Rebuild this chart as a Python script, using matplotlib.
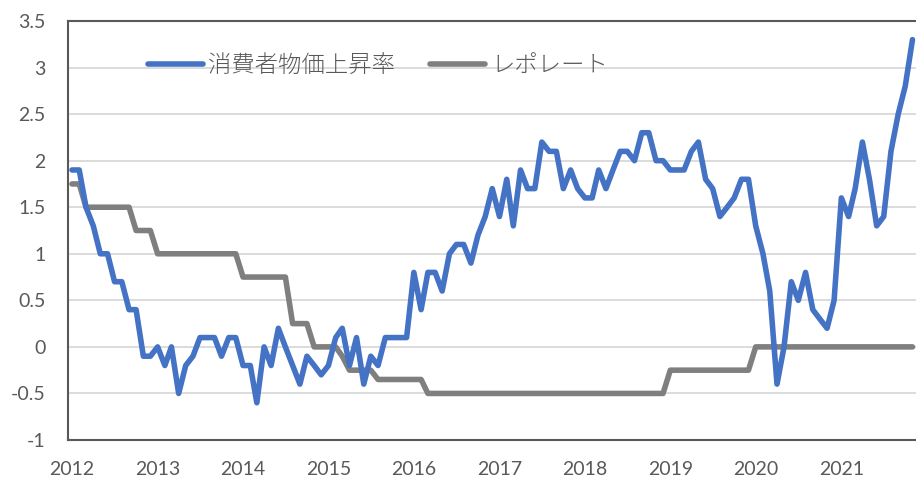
import pandas as pd
import matplotlib
matplotlib.use("Agg")
import matplotlib.pyplot as plt
import matplotlib.dates as mdates
from matplotlib.ticker import FuncFormatter

plt.rcParams['axes.unicode_minus'] = False

# monthly, Jan 2012 - Nov 2021
months = pd.date_range('2012-01-01', periods=119, freq='MS')

cpi = [
    1.9, 1.9, 1.5, 1.3, 1.0, 1.0, 0.7, 0.7, 0.4, 0.4, -0.1, -0.1,      # 2012
    0.0, -0.2, 0.0, -0.5, -0.2, -0.1, 0.1, 0.1, 0.1, -0.1, 0.1, 0.1,   # 2013
    -0.2, -0.2, -0.6, 0.0, -0.2, 0.2, 0.0, -0.2, -0.4, -0.1, -0.2, -0.3,  # 2014
    -0.2, 0.1, 0.2, -0.2, 0.1, -0.4, -0.1, -0.2, 0.1, 0.1, 0.1, 0.1,   # 2015
    0.8, 0.4, 0.8, 0.8, 0.6, 1.0, 1.1, 1.1, 0.9, 1.2, 1.4, 1.7,        # 2016
    1.4, 1.8, 1.3, 1.9, 1.7, 1.7, 2.2, 2.1, 2.1, 1.7, 1.9, 1.7,        # 2017
    1.6, 1.6, 1.9, 1.7, 1.9, 2.1, 2.1, 2.0, 2.3, 2.3, 2.0, 2.0,        # 2018
    1.9, 1.9, 1.9, 2.1, 2.2, 1.8, 1.7, 1.4, 1.5, 1.6, 1.8, 1.8,        # 2019
    1.3, 1.0, 0.6, -0.4, 0.0, 0.7, 0.5, 0.8, 0.4, 0.3, 0.2, 0.5,       # 2020
    1.6, 1.4, 1.7, 2.2, 1.8, 1.3, 1.4, 2.1, 2.5, 2.8, 3.3,             # 2021
]

repo = (
    [1.75] * 2 + [1.5] * 7 + [1.25] * 3        # 2012
    + [1.0] * 12                               # 2013
    + [0.75] * 7 + [0.25] * 3 + [0.0] * 2      # 2014
    + [0.0] * 2 + [-0.1] + [-0.25] * 4 + [-0.35] * 5   # 2015
    + [-0.35] * 2 + [-0.5] * 10                # 2016
    + [-0.5] * 12                              # 2017
    + [-0.5] * 12                              # 2018
    + [-0.25] * 12                             # 2019
    + [0.0] * 12                               # 2020
    + [0.0] * 11                               # 2021
)

yticks = [-1, -0.5, 0, 0.5, 1, 1.5, 2, 2.5, 3, 3.5]

text_col = '#595959'
num_font = 'Lato'
jp_font = ['Noto Sans CJK JP', 'DejaVu Sans']

fig = plt.figure(figsize=(9.16, 4.79), dpi=100)
ax = fig.add_axes([68 / 916, 39 / 479, 848 / 916, 419 / 479])

ax.plot(months, cpi, color='#4472C4', lw=4, label='消費者物価上昇率',
        solid_joinstyle='round', solid_capstyle='round', zorder=3)
ax.plot(months, repo, color='#7F7F7F', lw=4, label='レポレート',
        solid_joinstyle='round', solid_capstyle='round', zorder=2)

ax.set_ylim(-1, 3.5)
ax.set_yticks(yticks)
ax.yaxis.set_major_formatter(FuncFormatter(lambda v, p: '%g' % v))
ax.set_xlim(pd.Timestamp('2011-12-15'), pd.Timestamp('2021-11-16'))
ax.xaxis.set_major_locator(mdates.YearLocator())
ax.xaxis.set_major_formatter(mdates.DateFormatter('%Y'))

ax.grid(axis='y', color='#D9D9D9', lw=1.3)
ax.set_axisbelow(True)
ax.spines['right'].set_visible(False)
for s in ['left', 'bottom', 'top']:
    ax.spines[s].set_color('#595959')
    ax.spines[s].set_linewidth(1.5)
ax.tick_params(axis='both', length=0, labelsize=14, labelcolor=text_col)
ax.tick_params(axis='y', pad=16)
ax.tick_params(axis='x', pad=15)
for lab in ax.get_xticklabels() + ax.get_yticklabels():
    lab.set_fontfamily(num_font)

leg = ax.legend(loc='center left', bbox_to_anchor=(0.094, 0.893), ncol=2,
                frameon=False, borderpad=0, borderaxespad=0,
                handlelength=2.35, handletextpad=0.25, columnspacing=1.5,
                prop={'family': jp_font, 'size': 16.8, 'weight': 'light'})
for t in leg.get_texts():
    t.set_color(text_col)

fig.savefig('out.png', dpi=100)
